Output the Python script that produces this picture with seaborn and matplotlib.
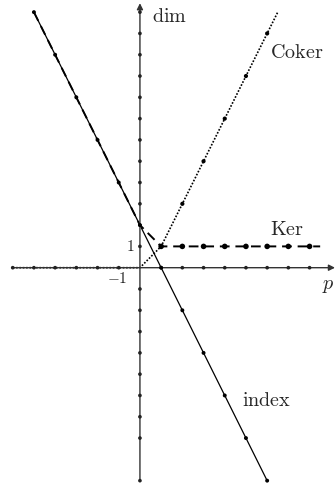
import matplotlib
matplotlib.use("Agg")
import matplotlib.pyplot as plt
import seaborn as sns
import pandas as pd

sns.set_theme(style="white")
plt.rcParams['mathtext.fontset'] = 'cm'
plt.rcParams['font.family'] = ['DejaVu Serif']

# Data
x_ticks = [-6, -5, -4, -3, -2, -1, 1, 2, 3, 4, 5, 6, 7, 8]
y_ticks = [-10, -8, -7, -6, -5, -4, -3, -2, -1, 1, 2, 3, 4, 5, 6, 7, 8, 9, 10, 11, 12]

index_p = [-5, -4, -3, -2, -1, 0, 1, 2, 3, 4, 5, 6]
index_v = [12, 10, 8, 6, 4, 2, 0, -2, -4, -6, -8, -10]

ker_line_p = [-5, 0, 1, 8.5]
ker_line_v = [12, 2, 1, 1]
ker_dot_p = [1, 2, 3, 4, 5, 6, 7, 8]
ker_dot_v = [1, 1, 1, 1, 1, 1, 1, 1]

coker_line_p = [-6, 0, 1, 6.5]
coker_line_v = [0, 0, 1, 12]
coker_dot_p = [2, 3, 4, 5, 6]
coker_dot_v = [3, 5, 7, 9, 11]

fig = plt.figure(figsize=(3.35, 4.83), dpi=100)
ax = fig.add_axes([0, 0, 1, 1])
ax.set_xlim(-6.6, 9.2)
ax.set_ylim(-10.11, 12.57)
ax.axis('off')

axis_col = '#333333'
# axes with arrows
ax.annotate('', xy=(9.2, 0), xytext=(-6, 0),
            arrowprops=dict(arrowstyle='-|>', color=axis_col, lw=1.0,
                            mutation_scale=9, shrinkA=0, shrinkB=0))
ax.annotate('', xy=(0, 12.42), xytext=(0, -10),
            arrowprops=dict(arrowstyle='-|>', color=axis_col, lw=1.0,
                            mutation_scale=9, shrinkA=0, shrinkB=0))

# axis tick dots
sns.scatterplot(x=x_ticks, y=[0] * len(x_ticks), ax=ax, color='#222222', s=7,
                edgecolor='none', zorder=5)
sns.scatterplot(x=[0] * len(y_ticks), y=y_ticks, ax=ax, color='#222222', s=7,
                edgecolor='none', zorder=5)

# index (solid)
df_i = pd.DataFrame({'p': index_p, 'v': index_v})
sns.lineplot(data=df_i, x='p', y='v', ax=ax, color='black', lw=0.9, sort=False)
sns.scatterplot(data=df_i, x='p', y='v', ax=ax, color='black', s=8, edgecolor='none', zorder=5)

# Ker (dashed)
df_k = pd.DataFrame({'p': ker_line_p, 'v': ker_line_v})
sns.lineplot(data=df_k, x='p', y='v', ax=ax, color='black', lw=1.4, sort=False,
             linestyle=(0, (5, 3)))
sns.scatterplot(x=ker_dot_p, y=ker_dot_v, ax=ax, color='black', s=16, edgecolor='none', zorder=5)

# Coker (dotted)
df_c = pd.DataFrame({'p': coker_line_p, 'v': coker_line_v})
sns.lineplot(data=df_c, x='p', y='v', ax=ax, color='black', lw=1.2, sort=False,
             linestyle=(0, (1, 1)))
sns.scatterplot(x=coker_dot_p, y=coker_dot_v, ax=ax, color='black', s=9, edgecolor='none', zorder=5)

# labels
fs = 14.5
ax.text(0.55, 11.8, r'$\mathrm{dim}$', fontsize=fs, ha='left', va='center')
ax.text(6.13, 10.1, r'$\mathrm{Coker}$', fontsize=fs, ha='left', va='center')
ax.text(6.13, 1.8, r'$\mathrm{Ker}$', fontsize=fs, ha='left', va='center')
ax.text(4.8, -6.25, r'$\mathrm{index}$', fontsize=fs, ha='left', va='center')
ax.text(9.18, -0.85, r'$p$', fontsize=fs, ha='right', va='center')
ax.text(-0.25, 1.0, r'$1$', fontsize=11, ha='right', va='center')
ax.text(-1.05, -0.5, r'$\mathbf{-}1$', fontsize=11, ha='center', va='center')

fig.savefig('out.png', dpi=100)
